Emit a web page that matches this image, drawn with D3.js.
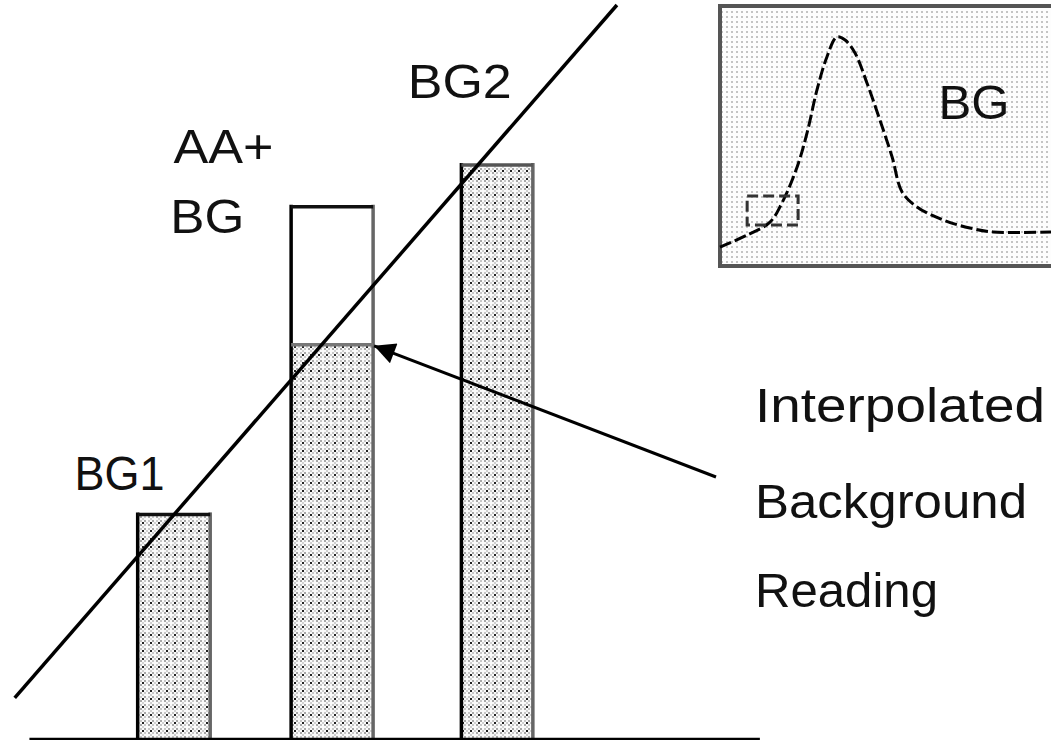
<!DOCTYPE html>
<html>
<head>
<meta charset="utf-8">
<script src="https://cdn.jsdelivr.net/npm/d3@7"></script>
<style>
  html, body { margin: 0; padding: 0; background: #fff; }
  svg { display: block; }
  text { font-family: "Liberation Sans", "DejaVu Sans", sans-serif; fill: #111; }
</style>
</head>
<body>
<svg id="chart" width="1051" height="740"></svg>
<script>
// ---------------- data ----------------
// bars: category, x extent (arbitrary position units), total reading, background part
const categories = ["BG1", "AA+BG", "BG2"];
const barStart   = [13.1, 27.7, 43.9];
const barEnd     = [20.0, 35.5, 50.7];
const totalValue = [30.6, 72.5, 78.2];
const bgValue    = [30.6, 53.7, 78.2];

// straight interpolation line (x, y) in the same units
const lineX = [1.4, 58.7];
const lineY = [5.6, 100];

// baseline extent
const baseX = [2.8, 72.3];

// inset: peak signal trace
const insetX = [0, 8.2, 15.1, 18.7, 23.3, 26.3, 29.3, 32.3, 35.3, 37.8, 40.8, 44.4, 48.3, 52.0, 55.0, 59.5, 67.4, 75.5, 82.5, 100];
const insetY = [7.3, 11.9, 16.9, 24.2, 38.1, 51.2, 67.7, 80.4, 88.1, 86.9, 81.9, 70.4, 56.2, 41.9, 28.5, 22.7, 17.7, 14.6, 13.1, 13.1];
const insetBoxX = [8.2, 23.6];
const insetBoxY = [15.8, 26.9];

// labels
const barLabels = ["BG1", "AA+|BG", "BG2"];
const noteLines = ["Interpolated", "Background", "Reading"];
const insetLabel = "BG";

// ---------------- drawing ----------------
const svg = d3.select("#chart");
const W = 1051, H = 740;

const x = d3.scaleLinear().domain([0, 100]).range([0, W]);
const y = d3.scaleLinear().domain([0, 100]).range([739, 5]);

const defs = svg.append("defs");
// stipple for bars
const pb = defs.append("pattern").attr("id", "barStipple")
  .attr("patternUnits", "userSpaceOnUse").attr("width", 8).attr("height", 8);
pb.append("rect").attr("width", 8).attr("height", 8).attr("fill", "#fafafa");
[[0,0,"#a8a8a8"],[4,4,"#a8a8a8"],[4,0,"#c8c8c8"],[0,4,"#c8c8c8"],[2,2,"#d0d0d0"],[6,6,"#d0d0d0"],[6,2,"#222"]].forEach(([px,py,c])=>{
  pb.append("rect").attr("x", px).attr("y", py).attr("width", 2).attr("height", 2).attr("fill", c);
});
// light dotted stipple for inset
const pi = defs.append("pattern").attr("id", "insetStipple")
  .attr("patternUnits", "userSpaceOnUse").attr("width", 5).attr("height", 5);
pi.append("rect").attr("width", 5).attr("height", 5).attr("fill", "#fdfdfd");
pi.append("rect").attr("x", 1).attr("y", 1).attr("width", 2).attr("height", 2).attr("fill", "#c4c4c4");

defs.append("marker").attr("id", "arrowHead")
  .attr("viewBox", "0 0 10 10").attr("refX", 10).attr("refY", 5)
  .attr("markerWidth", 10).attr("markerHeight", 7).attr("markerUnits", "strokeWidth")
  .attr("orient", "auto")
  .append("path").attr("d", "M0,0 L10,5 L0,10 Z").attr("fill", "#000");

// ---- inset ----
const ix = d3.scaleLinear().domain([0, 100]).range([720, 1051]);
const iy = d3.scaleLinear().domain([0, 100]).range([266, 6]);
const inset = svg.append("g");
inset.append("rect")
  .attr("x", ix(0)).attr("y", iy(100)).attr("width", ix(100) - ix(0) + 10).attr("height", iy(0) - iy(100))
  .attr("fill", "url(#insetStipple)").attr("stroke", "#555").attr("stroke-width", 4);
inset.append("path")
  .attr("d", d3.line().x((d,i)=>ix(insetX[i])).y((d,i)=>iy(insetY[i])).curve(d3.curveCatmullRom)(insetX))
  .attr("fill", "none").attr("stroke", "#000").attr("stroke-width", 3)
  .attr("stroke-dasharray", "12,4");
inset.append("rect")
  .attr("x", ix(insetBoxX[0])).attr("y", iy(insetBoxY[1]))
  .attr("width", ix(insetBoxX[1]) - ix(insetBoxX[0])).attr("height", iy(insetBoxY[0]) - iy(insetBoxY[1]))
  .attr("fill", "none").attr("stroke", "#333").attr("stroke-width", 3).attr("stroke-dasharray", "11,5");
inset.append("text").attr("x", ix(66)).attr("y", iy(56.5))
  .attr("font-size", 48).attr("textLength", 71).attr("lengthAdjust", "spacingAndGlyphs").text(insetLabel);

// ---- bars ----
const bars = svg.append("g");
categories.forEach((c, i) => {
  const x0 = x(barStart[i]), x1 = x(barEnd[i]);
  if (totalValue[i] > bgValue[i]) {
    bars.append("rect").attr("x", x0).attr("y", y(totalValue[i]))
      .attr("width", x1 - x0).attr("height", y(bgValue[i]) - y(totalValue[i]))
      .attr("fill", "#fff");
  }
  bars.append("rect").attr("x", x0).attr("y", y(bgValue[i]))
    .attr("width", x1 - x0).attr("height", H + 5 - y(bgValue[i]))
    .attr("fill", "url(#barStipple)");
  const top = y(totalValue[i]);
  bars.append("line").attr("x1", x0).attr("x2", x0).attr("y1", top - 2).attr("y2", H + 5)
    .attr("stroke", "#000").attr("stroke-width", 3.5);
  bars.append("line").attr("x1", x1).attr("x2", x1).attr("y1", top - 2).attr("y2", H + 5)
    .attr("stroke", "#666").attr("stroke-width", 3.5);
  bars.append("line").attr("x1", x0).attr("x2", x1).attr("y1", top).attr("y2", top)
    .attr("stroke", i === 2 ? "#555" : "#111").attr("stroke-width", 3.5);
  if (totalValue[i] > bgValue[i]) {
    bars.append("line").attr("x1", x0).attr("x2", x1).attr("y1", y(bgValue[i])).attr("y2", y(bgValue[i]))
      .attr("stroke", "#777").attr("stroke-width", 3.5);
  }
});

// baseline
svg.append("line").attr("x1", x(baseX[0])).attr("x2", x(baseX[1]))
  .attr("y1", y(0)).attr("y2", y(0)).attr("stroke", "#000").attr("stroke-width", 2.5);

// diagonal line
svg.append("line")
  .attr("x1", x(lineX[0])).attr("y1", y(lineY[0]))
  .attr("x2", x(lineX[1])).attr("y2", y(lineY[1]))
  .attr("stroke", "#000").attr("stroke-width", 3.5);

// arrow from note to interpolated background level of bar 2
svg.append("line")
  .attr("x1", 716).attr("y1", 477)
  .attr("x2", x(barEnd[1]) + 1).attr("y2", y(bgValue[1]) + 1)
  .attr("stroke", "#000").attr("stroke-width", 3)
  .attr("marker-end", "url(#arrowHead)");

// bar labels
const lab = svg.append("g").attr("font-size", 48);
lab.append("text").attr("x", x(7.1)).attr("y", y(33.9))
  .attr("textLength", 90).attr("lengthAdjust", "spacingAndGlyphs").text(barLabels[0]);
const aa = barLabels[1].split("|");
lab.append("text").attr("x", x(16.5)).attr("y", y(78.5))
  .attr("textLength", 100).attr("lengthAdjust", "spacingAndGlyphs").text(aa[0]);
lab.append("text").attr("x", x(16.2)).attr("y", y(68.9))
  .attr("textLength", 74).attr("lengthAdjust", "spacingAndGlyphs").text(aa[1]);
lab.append("text").attr("x", x(38.8)).attr("y", y(87.3))
  .attr("textLength", 104).attr("lengthAdjust", "spacingAndGlyphs").text(barLabels[2]);

// note
const noteW = [290, 272, 183];
const noteBase = [422, 518, 607];
noteLines.forEach((t, i) => {
  svg.append("text").attr("x", 755).attr("y", noteBase[i]).attr("font-size", 49)
    .attr("textLength", noteW[i]).attr("lengthAdjust", "spacingAndGlyphs").text(t);
});
</script>
</body>
</html>
